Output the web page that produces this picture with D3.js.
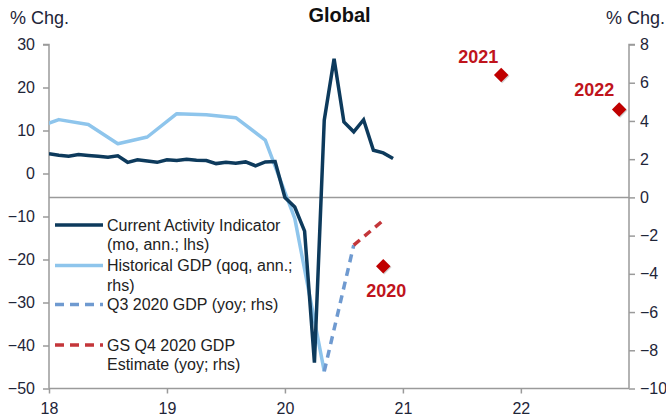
<!DOCTYPE html>
<html>
<head>
<meta charset="utf-8">
<script src="https://cdn.jsdelivr.net/npm/d3@7"></script>
<style>
  html, body { margin: 0; padding: 0; background: #fff; }
  svg { display: block; font-family: "Liberation Sans", Arial, sans-serif; }
</style>
</head>
<body>
<svg id="chart" width="666" height="418"></svg>
<script>
// ---- Data (months counted from Jan 2018 = 0) ----
const caiMonths = d3.range(0, 36);
const caiValues = [4.6, 4.25, 4.0, 4.4, 4.2, 4.0, 3.8, 4.1, 2.6, 3.2, 2.9, 2.6,
                   3.2, 3.0, 3.3, 3.1, 3.0, 2.3, 2.6, 2.4, 2.7, 1.8, 2.7, 2.8,
                   -5.6, -7.8, -13.4, -44.0, 12.4, 26.7, 12.0, 9.7, 12.5, 5.4, 4.8, 3.5];
const gdpMonths = [-2, 1, 4, 7, 10, 13, 16, 19, 22, 25, 28];
const gdpValues = [3.53, 4.07, 3.81, 2.81, 3.16, 4.38, 4.33, 4.17, 3.0, -1.1, -9.1];
const q3Months = [28, 31];
const q3Values = [-9.1, -2.5];
const q4Months = [31, 34];
const q4Values = [-2.5, -1.2];
const annualMonths = [34, 46, 58];
const annualValues = [-3.6, 6.4, 4.6];
const annualLabels = ["2020", "2021", "2022"];
const xTickMonths = [0, 12, 24, 36, 48];
const xTickLabels = ["18", "19", "20", "21", "22"];
const leftTicks = [30, 20, 10, 0, -10, -20, -30, -40, -50];
const rightTicks = [8, 6, 4, 2, 0, -2, -4, -6, -8, -10];
const legendLabels = [
  ["Current Activity Indicator", "(mo, ann.; lhs)"],
  ["Historical GDP (qoq, ann.;", "rhs)"],
  ["Q3 2020 GDP (yoy; rhs)"],
  ["GS Q4 2020 GDP", "Estimate (yoy; rhs)"]
];

// ---- Layout ----
const L = 49, R = 629, T = 44.5, B = 388.5;
const svg = d3.select("#chart");
const x = d3.scaleLinear().domain([0, 59]).range([L, R]);
const yL = d3.scaleLinear().domain([-50, 30]).range([B, T]);
const yR = d3.scaleLinear().domain([-10, 8]).range([B, T]);

const navy = "#0d3a5c", light = "#8ec5ec", dashBlue = "#6f9ad0", dashRed = "#c4363a", red = "#c00000";
const axisGray = "#9a9a9a", tickText = "#1e2538";

svg.append("defs").append("clipPath").attr("id", "plot")
  .append("rect").attr("x", L).attr("y", 0).attr("width", R - L).attr("height", 418);

// Titles
svg.append("text").attr("x", 10).attr("y", 24).attr("font-size", 18).attr("fill", "#1e2538").text("% Chg.");
svg.append("text").attr("x", 606).attr("y", 24).attr("font-size", 18).attr("fill", "#1e2538").text("% Chg.");
svg.append("text").attr("x", 339.5).attr("y", 22).attr("font-size", 20).attr("font-weight", "bold")
  .attr("text-anchor", "middle").attr("fill", "#111").text("Global");

// Axes
const leftAxis = d3.axisLeft(yL).tickValues(leftTicks).tickSize(6).tickPadding(8).tickFormat(d3.format("d"));
const gl = svg.append("g").attr("transform", `translate(${L},0)`).call(leftAxis);
const rightAxis = d3.axisRight(yR).tickValues(rightTicks).tickSize(6).tickPadding(5).tickFormat(d3.format("d"));
const gr = svg.append("g").attr("transform", `translate(${R},0)`).call(rightAxis);
const bottomAxis = d3.axisBottom(x).tickValues(xTickMonths).tickSize(5).tickPadding(6)
  .tickFormat((d, i) => xTickLabels[i]);
const gb = svg.append("g").attr("transform", `translate(0,${B})`).call(bottomAxis);
[gl, gr, gb].forEach(g => {
  g.select(".domain").attr("stroke", axisGray).attr("stroke-width", 1.5);
  g.selectAll(".tick line").attr("stroke", axisGray).attr("stroke-width", 1.5);
  g.selectAll(".tick text").attr("font-size", 16).attr("fill", tickText)
    .attr("font-family", "'Liberation Sans', Arial, sans-serif");
});
gl.select(".domain").attr("d", `M-6,${T}H0V${B}`);
gr.select(".domain").attr("d", `M6,${T}H0V${B}`);
gb.select(".domain").attr("d", `M${L},0H${R}`);
gb.selectAll(".tick text").attr("dy", "0.9em");

// Zero line (rhs)
svg.append("line").attr("x1", L).attr("x2", R).attr("y1", yR(0)).attr("y2", yR(0))
  .attr("stroke", axisGray).attr("stroke-width", 1.5);

const plot = svg.append("g").attr("clip-path", "url(#plot)");

const lineL = d3.line().x(d => x(d[0])).y(d => yL(d[1]));
const lineR = d3.line().x(d => x(d[0])).y(d => yR(d[1]));

// Historical GDP
plot.append("path").datum(d3.zip(gdpMonths, gdpValues)).attr("d", lineR)
  .attr("fill", "none").attr("stroke", light).attr("stroke-width", 3.5).attr("stroke-linejoin", "round");
// Q3 dashed
plot.append("path").datum(d3.zip(q3Months, q3Values)).attr("d", lineR)
  .attr("fill", "none").attr("stroke", dashBlue).attr("stroke-width", 3.5).attr("stroke-dasharray", "8,6");
// Q4 estimate dashed
plot.append("path").datum(d3.zip(q4Months, q4Values)).attr("d", lineR)
  .attr("fill", "none").attr("stroke", dashRed).attr("stroke-width", 3.5).attr("stroke-dasharray", "8,6");
// CAI
plot.append("path").datum(d3.zip(caiMonths, caiValues)).attr("d", lineL)
  .attr("fill", "none").attr("stroke", navy).attr("stroke-width", 3.5).attr("stroke-linejoin", "miter");

// Annual diamonds
const labelOffsets = [[3, 31], [-23, -12], [-25, -13]];
const diamond = d3.symbol().type(d3.symbolSquare).size(105);
annualMonths.forEach((m, i) => {
  const cx = x(m), cy = yR(annualValues[i]);
  svg.append("path").attr("d", diamond()).attr("transform", `translate(${cx + 1},${cy + 1}) rotate(45)`)
    .attr("fill", "#b0b0b0").attr("opacity", 0.6);
  svg.append("path").attr("d", diamond()).attr("transform", `translate(${cx},${cy}) rotate(45)`)
    .attr("fill", red);
  svg.append("text").attr("x", cx + labelOffsets[i][0]).attr("y", cy + labelOffsets[i][1])
    .attr("text-anchor", "middle").attr("font-size", 18).attr("font-weight", "bold")
    .attr("fill", "#c0141c").text(annualLabels[i]);
});

// Legend
const legendRows = [225, 265.5, 304.5, 345];
const legendStyles = [
  { c: navy, dash: null }, { c: light, dash: null },
  { c: dashBlue, dash: "9,6" }, { c: dashRed, dash: "9,6" }
];
legendLabels.forEach((lines, i) => {
  const y0 = legendRows[i];
  svg.append("line").attr("x1", 55).attr("x2", 103).attr("y1", y0).attr("y2", y0)
    .attr("stroke", legendStyles[i].c).attr("stroke-width", 3.5)
    .attr("stroke-dasharray", legendStyles[i].dash);
  lines.forEach((t, j) => {
    svg.append("text").attr("x", 107).attr("y", y0 + 5.5 + j * 19.5)
      .attr("font-size", 16).attr("fill", "#222").text(t);
  });
});
</script>
</body>
</html>
